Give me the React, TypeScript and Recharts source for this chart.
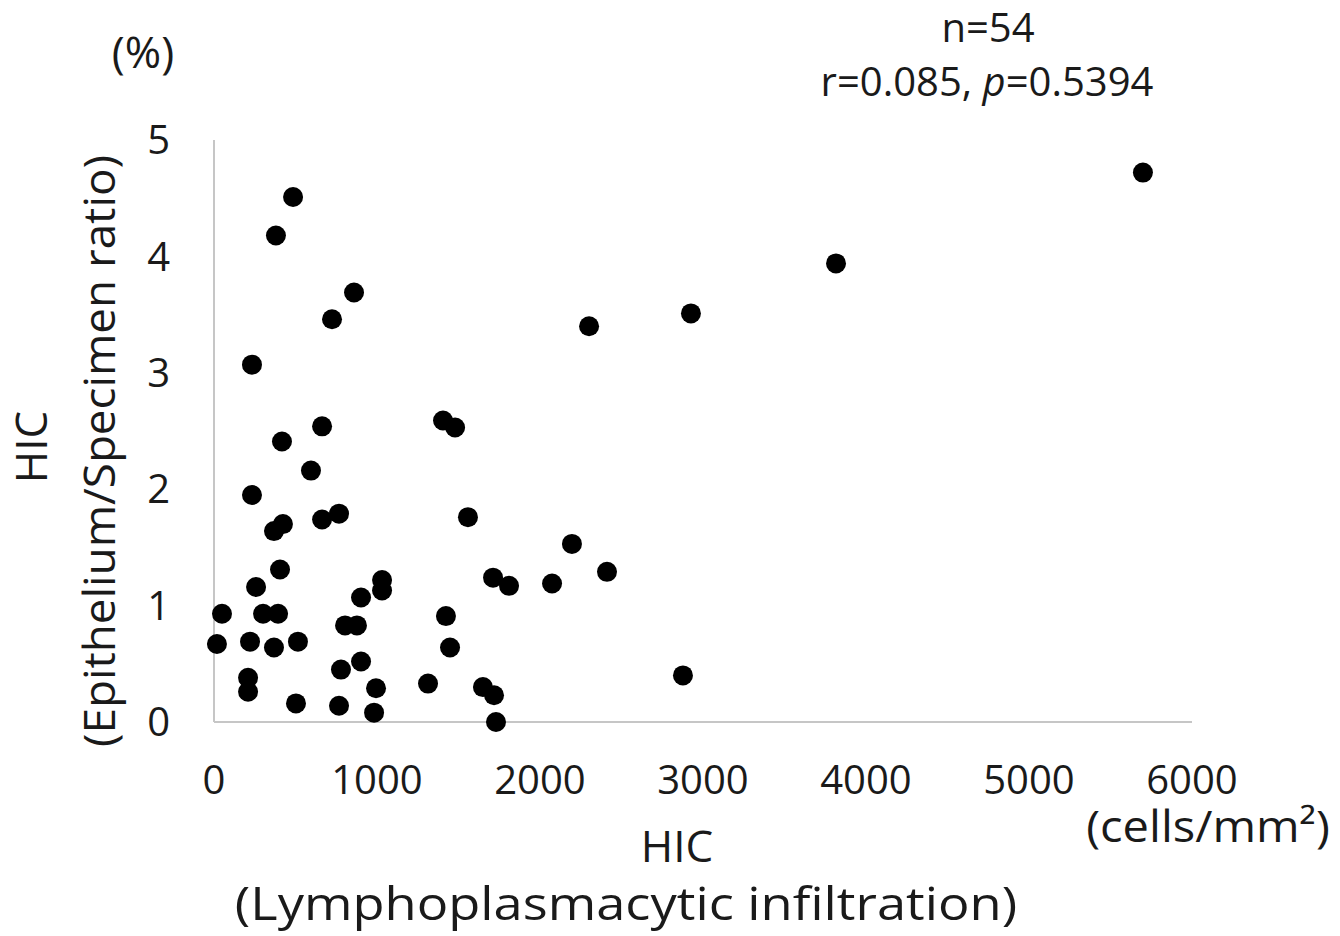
import React from "react";
import { ScatterChart, Scatter, XAxis, YAxis } from "recharts";

// HIC lymphoplasmacytic infiltration (cells/mm2) vs HIC epithelium/specimen ratio (%)
const infiltration = [
  5699, 3816, 2926, 2301, 485, 380, 859, 724, 233, 663, 1405, 1479, 417, 595,
  233, 1558, 663, 767, 368, 423, 2196, 405, 258, 1031, 1031, 902, 1712, 1810,
  2074, 2411, 49, 301, 393, 804, 877, 1423, 18, 221, 368, 515, 1448, 902, 779,
  209, 209, 994, 1313, 1650, 1718, 503, 767, 982, 1730, 2877,
];
const epitheliumRatio = [
  4.72, 3.94, 3.51, 3.4, 4.51, 4.18, 3.69, 3.46, 3.07, 2.54, 2.59, 2.53, 2.41,
  2.16, 1.95, 1.76, 1.74, 1.79, 1.64, 1.7, 1.53, 1.31, 1.16, 1.22, 1.13, 1.07,
  1.24, 1.17, 1.19, 1.29, 0.93, 0.93, 0.93, 0.83, 0.83, 0.91, 0.67, 0.69, 0.64,
  0.69, 0.64, 0.52, 0.45, 0.38, 0.26, 0.29, 0.33, 0.3, 0.23, 0.16, 0.14, 0.08,
  0, 0.4,
];
const xTicks = [0, 1000, 2000, 3000, 4000, 5000, 6000];
const yTicks = [0, 1, 2, 3, 4, 5];

const data = infiltration.map((x, i) => ({ x, y: epitheliumRatio[i] }));

const FONT = "'Open Sans', sans-serif";
const tickStyle = { fontSize: 40, fill: "#1a1a1a", fontFamily: FONT };

// filled black dot, radius ~10px like the original
const Dot = (props: any) => <circle cx={props.cx} cy={props.cy} r={10} fill="#000" />;

const App = () => {
  return (
    <div style={{ position: "absolute", left: 0, top: 0, width: 1340, height: 936, background: "#fff" }}>
      <ScatterChart
        width={1340}
        height={936}
        margin={{ top: 140, right: 148, left: 0, bottom: 0 }}
      >
        <XAxis
          type="number"
          dataKey="x"
          domain={[0, 6000]}
          ticks={xTicks}
          height={214}
          tickLine={false}
          tickSize={0}
          tickMargin={44}
          axisLine={{ stroke: "#c6c6c6", strokeWidth: 2 }}
          tick={tickStyle}
          interval={0}
        />
        <YAxis
          type="number"
          dataKey="y"
          domain={[0, 5]}
          ticks={yTicks}
          width={214}
          tickLine={false}
          tickSize={0}
          tickMargin={44}
          axisLine={{ stroke: "#c6c6c6", strokeWidth: 2 }}
          tick={tickStyle}
          interval={0}
        />
        <Scatter data={data} fill="#000" shape={Dot} isAnimationActive={false} />
      </ScatterChart>
      <svg
        width={1340}
        height={936}
        style={{ position: "absolute", left: 0, top: 0, pointerEvents: "none" }}
        fontFamily={FONT}
        fill="#1a1a1a"
      >
        <text x={143} y={68} fontSize={44} textAnchor="middle">(%)</text>
        <text x={988} y={42} fontSize={40} textAnchor="middle">n=54</text>
        <text x={987} y={96} fontSize={40} textAnchor="middle">
          r=0.085, <tspan fontStyle="italic">p</tspan>=0.5394
        </text>
        <text x={0} y={0} fontSize={44} textAnchor="middle" transform="translate(47 447) rotate(-90)">HIC</text>
        <text
          x={0}
          y={0}
          fontSize={44}
          textAnchor="middle"
          transform="translate(115 451) rotate(-90) scale(1.04 1)"
        >
          (Epithelium/Specimen ratio)
        </text>
        <text x={677} y={862} fontSize={44} textAnchor="middle">HIC</text>
        <text x={0} y={0} fontSize={46} textAnchor="middle" transform="translate(626 920) scale(1.14 1)">
          (Lymphoplasmacytic infiltration)
        </text>
        <text x={0} y={0} fontSize={44} textAnchor="middle" transform="translate(1208 842) scale(1.07 1)">
          (cells/mm²)
        </text>
      </svg>
    </div>
  );
};

export default App;
